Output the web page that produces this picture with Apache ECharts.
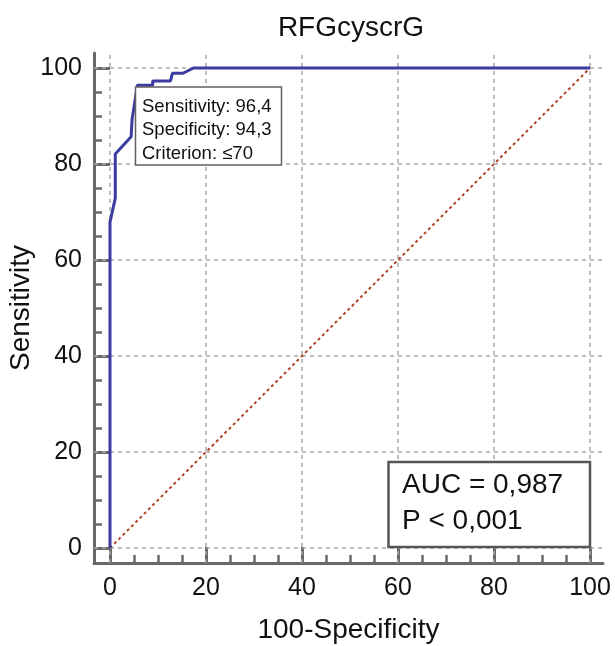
<!DOCTYPE html>
<html>
<head>
<meta charset="utf-8">
<script src="https://cdn.jsdelivr.net/npm/echarts@6/dist/echarts.min.js"></script>
<style>
html,body{margin:0;padding:0;background:#fff;}
#chart{width:615px;height:646px;}
</style>
</head>
<body>
<div id="chart"></div>
<script>
// ---- data ----
const chartTitle = 'RFGcyscrG';
const xName = '100-Specificity';
const yName = 'Sensitivity';
const majorTicks = [0, 20, 40, 60, 80, 100];
const minorTicks = [5, 10, 15, 25, 30, 35, 45, 50, 55, 65, 70, 75, 85, 90, 95];
const rocX = [0, 0, 1.1, 1.1, 4.4, 4.6, 5.7, 8.9, 8.9, 12.6, 13.0, 15.2, 17.4, 100];
const rocY = [0, 67.9, 72.9, 82.1, 85.7, 89.3, 96.4, 96.4, 97.3, 97.3, 98.9, 98.9, 100, 100];
const diagX = [0, 100];
const diagY = [0, 100];
const criterionLines = ['Sensitivity: 96,4', 'Specificity: 94,3', 'Criterion: \u226470'];
const aucLines = ['AUC = 0,987', 'P < 0,001'];

const FONT = "'Liberation Sans', Arial, sans-serif";
const AXIS_COLOR = '#686868';
const GRID_COLOR = '#a8a8a8';

const rocData = rocX.map((x, i) => [x, rocY[i]]);
const diagData = diagX.map((x, i) => [x, diagY[i]]);

const xMin = -3.333, xMax = 102.708, yMin = -3.125, yMax = 103.125;

function mainAxis(extra) {
  return Object.assign({
    type: 'value',
    axisLine: { show: true, onZero: false, lineStyle: { color: AXIS_COLOR, width: 3 } },
    axisTick: { show: true, inside: true, length: 16, customValues: majorTicks,
                lineStyle: { color: AXIS_COLOR, width: 3 } },
    splitLine: { show: false },
    nameMoveOverlap: false,
    nameTextStyle: { fontSize: 28, color: '#111', fontFamily: FONT }
  }, extra);
}
function minorAxis(extra) {
  return Object.assign({
    type: 'value',
    axisLine: { show: false, onZero: false },
    axisTick: { show: true, inside: true, length: 8, customValues: minorTicks,
                lineStyle: { color: AXIS_COLOR, width: 2.5 } },
    axisLabel: { show: false },
    splitLine: { show: false }
  }, extra);
}

const gridMarks = majorTicks.map(v => ({ xAxis: v }))
  .concat(majorTicks.map(v => ({ yAxis: v })));

const chart = echarts.init(document.getElementById('chart'), null, { renderer: 'canvas' });
chart.setOption({
  animation: false,
  backgroundColor: '#fff',
  grid: { left: 94, right: 12, top: 53, bottom: 83, containLabel: false, outerBoundsMode: 'none' },
  xAxis: [
    mainAxis({ position: 'bottom', min: xMin, max: xMax, name: xName, nameLocation: 'middle', nameGap: 53,
               axisLabel: { show: true, customValues: majorTicks, fontSize: 25, color: '#111', fontFamily: FONT, margin: 13 } }),
    minorAxis({ position: 'bottom', min: xMin, max: xMax })
  ],
  yAxis: [
    mainAxis({ position: 'left', min: yMin, max: yMax, name: yName, nameLocation: 'middle', nameGap: 59,
               axisLabel: { show: true, customValues: majorTicks, fontSize: 25, color: '#111', fontFamily: FONT, margin: 12 } }),
    minorAxis({ position: 'left', min: yMin, max: yMax })
  ],
  graphic: [
    { type: 'text', z: 100, x: 351, y: 28,
      style: { text: chartTitle, fontSize: 28, fill: '#111', fontFamily: FONT, align: 'center', verticalAlign: 'middle' } },
    { type: 'rect', z: 100, shape: { x: 135.5, y: 87, width: 146, height: 78 },
      style: { fill: '#fff', stroke: '#606060', lineWidth: 1.5 } },
    { type: 'text', z: 101, x: 142, y: 95,
      style: { text: criterionLines.join('\n'), fontSize: 18.5, lineHeight: 23.5, fill: '#111', fontFamily: FONT,
               align: 'left', verticalAlign: 'top' } },
    { type: 'rect', z: 100, shape: { x: 388.5, y: 462, width: 201.5, height: 85 },
      style: { fill: '#fff', stroke: '#555', lineWidth: 2.5 } },
    { type: 'text', z: 101, x: 402, y: 467,
      style: { text: aucLines.join('\n'), fontSize: 28, lineHeight: 36.5, fill: '#111', fontFamily: FONT,
               align: 'left', verticalAlign: 'top' } }
  ],
  series: [
    { type: 'line', data: [], silent: true, z: 1,
      markLine: { silent: true, z: 1, symbol: ['none', 'none'], label: { show: false },
                  lineStyle: { color: GRID_COLOR, width: 1.5, type: [4, 4] },
                  emphasis: { disabled: true }, data: gridMarks } },
    { type: 'line', data: diagData, symbol: 'none', silent: true, z: 3,
      lineStyle: { color: '#b4432a', width: 2, type: [3, 3] } },
    { type: 'line', data: rocData, symbol: 'none', silent: true, z: 4,
      lineStyle: { color: '#3b3ba0', width: 3 } }
  ]
});
</script>
</body>
</html>
